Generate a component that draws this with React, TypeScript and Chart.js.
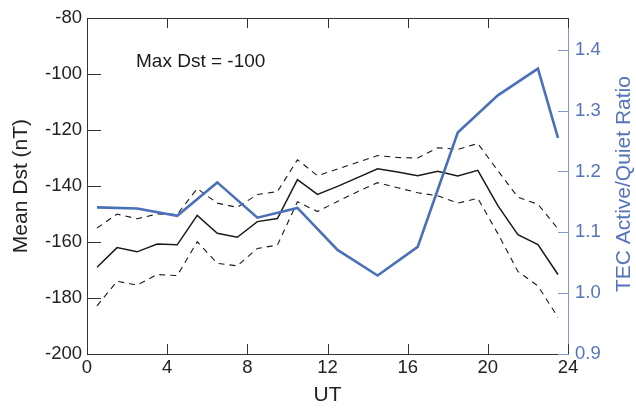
import React, { useEffect, useRef } from "react";
import { Chart, registerables } from "chart.js";

Chart.register(...registerables);

// ---- data ----
const utHours = [0.5, 1.5, 2.5, 3.5, 4.5, 5.5, 6.5, 7.5, 8.5, 9.5, 10.5, 11.5, 12.5, 13.5, 14.5, 15.5, 16.5, 17.5, 18.5, 19.5, 20.5, 21.5, 22.5, 23.5];
const meanDst = [-169, -162, -163.5, -160.7, -161, -150.5, -156.9, -158.3, -152.7, -151.6, -137.7, -143, -140.1, -137, -133.8, -135, -136.3, -134.7, -136.4, -134.4, -147, -157.4, -160.9, -171.6];
const upperDst = [-155, -150, -151.7, -150, -150.1, -140.9, -146.1, -147.6, -143, -142, -130.6, -136.3, -133.9, -131.5, -129.1, -129.8, -130, -126.3, -126.9, -124.8, -134.5, -144, -146.5, -155.3];
const lowerDst = [-182.8, -174, -175.4, -171.6, -172, -159.9, -167.6, -168.5, -162.3, -161.1, -145.6, -149.1, -145.5, -142, -138.8, -140.6, -142.4, -143.5, -146.1, -144.4, -157, -170.5, -175.7, -186.9];
const tecHours = [0.5, 2.5, 4.5, 6.5, 8.5, 10.5, 12.5, 14.5, 16.5, 18.5, 20.5, 22.5, 23.5];
const tecRatio = [1.141, 1.139, 1.127, 1.182, 1.124, 1.14, 1.071, 1.029, 1.076, 1.264, 1.325, 1.369, 1.255];

const xTitle = "UT";
const yTitle = "Mean Dst (nT)";
const y1Title = "TEC Active/Quiet Ratio";
const annotation = "Max Dst = -100";

const FONT = '"Liberation Sans", Arial, Helvetica, sans-serif';
const BLACK = "#1a1a1a";
const AXIS = "#333333";
const BLUE = "#4a70b9";
const BLUE_AXIS = "#7f97cc";
const BLUE_TEXT = "#5574ba";

const pts = (xs: number[], ys: number[]) => xs.map((x, i) => ({ x, y: ys[i] }));

const framePlugin = {
  id: "frame",
  afterDraw(chart: any) {
    const { ctx, chartArea: a, scales } = chart;
    const r = (v: number) => Math.round(v) + 0.5;
    const line = (x1: number, y1: number, x2: number, y2: number) => {
      ctx.beginPath();
      ctx.moveTo(x1, y1);
      ctx.lineTo(x2, y2);
      ctx.stroke();
    };
    ctx.save();
    ctx.lineWidth = 1;
    ctx.strokeStyle = AXIS;
    // top border
    line(a.left, r(a.top), a.right, r(a.top));
    // x ticks (bottom & top, inward)
    scales.x.ticks.forEach((t: any) => {
      const px = r(scales.x.getPixelForValue(t.value));
      line(px, a.bottom, px, a.bottom - 10);
      line(px, a.top, px, a.top + 10);
    });
    // left ticks inward
    scales.y.ticks.forEach((t: any) => {
      const py = r(scales.y.getPixelForValue(t.value));
      line(a.left, py, a.left + 14, py);
    });
    // right axis ticks inward (blue)
    ctx.strokeStyle = BLUE_AXIS;
    scales.y1.ticks.forEach((t: any) => {
      const py = r(scales.y1.getPixelForValue(t.value));
      line(a.right, py, a.right - 10, py);
    });
    // right axis title (reads bottom to top)
    ctx.fillStyle = BLUE_TEXT;
    ctx.font = `21px ${FONT}`;
    ctx.textAlign = "center";
    ctx.textBaseline = "middle";
    ctx.translate(624, (a.top + a.bottom) / 2 - 2);
    ctx.rotate(-Math.PI / 2);
    ctx.fillText(y1Title, 0, 0);
    ctx.restore();

    // annotation
    ctx.save();
    ctx.fillStyle = BLACK;
    ctx.font = `19px ${FONT}`;
    ctx.textAlign = "left";
    ctx.textBaseline = "middle";
    ctx.fillText(annotation, a.left + 49, a.top + 44);
    ctx.restore();
  },
};

export default function App() {
  const ref = useRef<HTMLCanvasElement | null>(null);

  useEffect(() => {
    document.body.style.margin = "0";
    if (!ref.current) return;
    Chart.defaults.font.family = FONT;
    const chart = new Chart(ref.current, {
      type: "line",
      data: {
        datasets: [
          {
            label: "TEC ratio",
            data: pts(tecHours, tecRatio),
            yAxisID: "y1",
            borderColor: BLUE,
            borderWidth: 2.6,
            pointRadius: 0,
            tension: 0,
            order: 0,
          },
          {
            label: "Mean Dst",
            data: pts(utHours, meanDst),
            yAxisID: "y",
            borderColor: BLACK,
            borderWidth: 1.5,
            pointRadius: 0,
            tension: 0,
            order: 1,
          },
          {
            label: "Upper",
            data: pts(utHours, upperDst),
            yAxisID: "y",
            borderColor: BLACK,
            borderWidth: 1.1,
            borderDash: [6, 5],
            pointRadius: 0,
            tension: 0,
            order: 2,
          },
          {
            label: "Lower",
            data: pts(utHours, lowerDst),
            yAxisID: "y",
            borderColor: BLACK,
            borderWidth: 1.1,
            borderDash: [6, 5],
            pointRadius: 0,
            tension: 0,
            order: 3,
          },
        ],
      },
      options: {
        animation: false,
        responsive: true,
        maintainAspectRatio: false,
        layout: { padding: { top: 13, left: 0, right: 0, bottom: 0 } },
        plugins: { legend: { display: false }, tooltip: { enabled: false } },
        scales: {
          x: {
            type: "linear",
            position: "bottom",
            min: 0,
            max: 24,
            grid: { display: false, drawTicks: false },
            border: { display: true, color: AXIS, width: 1 },
            ticks: { stepSize: 4, color: "#222", padding: 3, font: { size: 18.5 } },
            title: { display: true, text: xTitle, color: "#222", font: { size: 21 }, padding: { top: 0, bottom: 1 } },
            afterFit: (s: any) => { s.height = 55; },
          },
          y: {
            type: "linear",
            position: "left",
            min: -200,
            max: -80,
            grid: { display: false, drawTicks: false },
            border: { display: true, color: AXIS, width: 1 },
            ticks: { stepSize: 20, color: "#222", padding: 5, font: { size: 18.5 } },
            title: { display: true, text: yTitle, color: "#222", font: { size: 21 }, padding: { top: 9, bottom: 0 } },
            afterFit: (s: any) => { s.width = 87; },
          },
          y1: {
            type: "linear",
            position: "right",
            min: 0.9,
            max: 1.452,
            grid: { display: false, drawTicks: false },
            border: { display: true, color: BLUE_AXIS, width: 1 },
            ticks: {
              stepSize: 0.1,
              includeBounds: false,
              color: BLUE_TEXT,
              padding: 7,
              font: { size: 18.5 },
              callback: (v: any) => Number(v).toFixed(1),
            },
            afterFit: (s: any) => { s.width = 68; },
          },
        },
      },
      plugins: [framePlugin],
    });
    return () => chart.destroy();
  }, []);

  return (
    <div style={{ position: "relative", width: 636, height: 409 }}>
      <canvas ref={ref} />
    </div>
  );
}
